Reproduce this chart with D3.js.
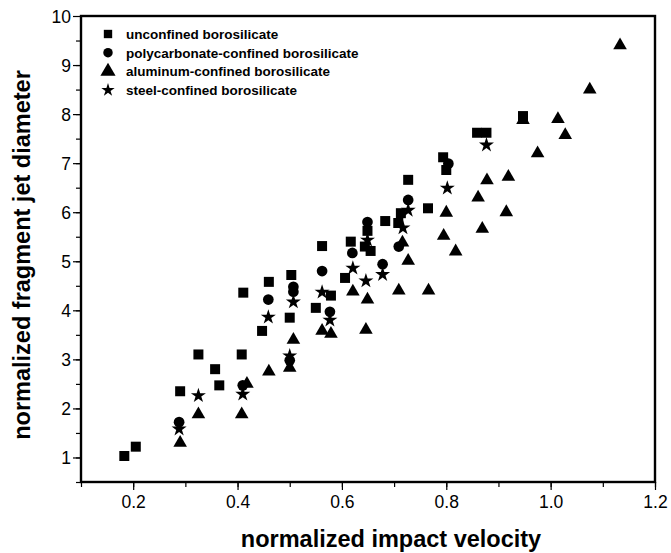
<!DOCTYPE html>
<html>
<head>
<meta charset="utf-8">
<title>Fragment jet diameter</title>
<script src="https://d3js.org/d3.v7.min.js"></script>
<style>
  body { margin: 0; background: #fff; }
  text { font-family: "Liberation Sans", Arial, sans-serif; }
</style>
</head>
<body>
<div id="chart"></div>
<script>
// series
var unconfinedX = [0.183, 0.205, 0.290, 0.325, 0.357, 0.365, 0.408, 0.411, 0.447, 0.460, 0.503, 0.500, 0.550, 0.562, 0.579, 0.606, 0.617, 0.644, 0.655, 0.649, 0.683, 0.708, 0.713, 0.727, 0.765, 0.794, 0.800, 0.859, 0.877, 0.947];
var unconfinedY = [1.03, 1.22, 2.35, 3.10, 2.80, 2.47, 3.10, 4.36, 3.58, 4.58, 4.72, 3.85, 4.05, 5.31, 4.30, 4.66, 5.40, 5.30, 5.21, 5.62, 5.82, 5.78, 5.98, 6.66, 6.08, 7.12, 6.86, 7.62, 7.62, 7.96];

var polyX = [0.288, 0.410, 0.459, 0.507, 0.507, 0.500, 0.562, 0.577, 0.620, 0.649, 0.678, 0.709, 0.727, 0.804];
var polyY = [1.72, 2.47, 4.22, 4.48, 4.38, 2.98, 4.80, 3.97, 5.17, 5.80, 4.94, 5.30, 6.25, 6.99];

var aluX = [0.290, 0.325, 0.408, 0.418, 0.460, 0.500, 0.507, 0.562, 0.579, 0.621, 0.649, 0.646, 0.709, 0.716, 0.727, 0.766, 0.795, 0.800, 0.818, 0.861, 0.869, 0.878, 0.915, 0.919, 0.947, 0.975, 1.014, 1.028, 1.075, 1.133];
var aluY = [1.30, 1.88, 1.88, 2.50, 2.75, 2.83, 3.40, 3.58, 3.52, 4.38, 4.22, 3.60, 4.40, 5.38, 5.01, 4.40, 5.52, 5.99, 5.20, 6.30, 5.66, 6.65, 6.00, 6.72, 7.88, 7.20, 7.90, 7.57, 8.50, 9.40];

var steelX = [0.288, 0.325, 0.410, 0.459, 0.507, 0.500, 0.562, 0.577, 0.621, 0.646, 0.649, 0.678, 0.717, 0.727, 0.802, 0.877];
var steelY = [1.58, 2.26, 2.29, 3.86, 4.17, 3.07, 4.37, 3.80, 4.86, 4.60, 5.43, 4.73, 5.68, 6.04, 6.49, 7.37];

var seriesNames = ["unconfined borosilicate", "polycarbonate-confined borosilicate", "aluminum-confined borosilicate", "steel-confined borosilicate"];
var xTicks = [0.2, 0.4, 0.6, 0.8, 1.0, 1.2];
var yTicks = [1, 2, 3, 4, 5, 6, 7, 8, 9, 10];

var W = 671, H = 553;
var mLeft = 81, mRight = 655, mTop = 16, mBottom = 482;

var svg = d3.select("#chart").append("svg")
    .attr("width", W).attr("height", H);

var x = d3.scaleLinear().domain([0.1, 1.2]).range([mLeft, mRight]);
var y = d3.scaleLinear().domain([0.5, 10]).range([mBottom, mTop]);

// minor ticks
var xMinor = d3.range(1, 13).map(function(i) { return i / 10; });
var yMinor = d3.range(1, 20).map(function(i) { return i / 2; });

svg.append("g")
    .attr("transform", "translate(0," + mBottom + ")")
    .call(d3.axisBottom(x).tickValues(xMinor).tickSize(5).tickFormat(""))
    .call(function(g) { g.select(".domain").remove(); });
svg.append("g")
    .attr("transform", "translate(" + mLeft + ",0)")
    .call(d3.axisLeft(y).tickValues(yMinor).tickSize(5).tickFormat(""))
    .call(function(g) { g.select(".domain").remove(); });

var xAxis = svg.append("g")
    .attr("transform", "translate(0," + mBottom + ")")
    .call(d3.axisBottom(x).tickValues(xTicks).tickSize(8).tickPadding(6).tickFormat(d3.format(".1f")));
var yAxis = svg.append("g")
    .attr("transform", "translate(" + mLeft + ",0)")
    .call(d3.axisLeft(y).tickValues(yTicks).tickSize(8).tickPadding(2).tickFormat(d3.format("d")));

[xAxis, yAxis].forEach(function(g) {
  g.select(".domain").remove();
  g.selectAll("text").style("font-size", "17.5px").attr("fill", "#000");
});
yAxis.selectAll("text").attr("dy", "0.35em");

svg.selectAll(".tick line").attr("stroke", "#000").attr("stroke-width", 1.2);

// frame
svg.append("rect")
    .attr("x", mLeft).attr("y", mTop)
    .attr("width", mRight - mLeft).attr("height", mBottom - mTop)
    .attr("fill", "none").attr("stroke", "#000").attr("stroke-width", 2.4);

var shapes = [
  { type: d3.symbolSquare, size: 100, xs: unconfinedX, ys: unconfinedY },
  { type: d3.symbolCircle, size: 90, xs: polyX, ys: polyY },
  { type: d3.symbolTriangle, size: 80, xs: aluX, ys: aluY },
  { type: d3.symbolStar, size: 70, xs: steelX, ys: steelY }
];

shapes.forEach(function(s) {
  var pts = s.xs.map(function(v, i) { return [v, s.ys[i]]; });
  svg.append("g").selectAll("path")
      .data(pts)
      .enter().append("path")
      .attr("transform", function(d) { return "translate(" + x(d[0]) + "," + y(d[1]) + ")"; })
      .attr("d", d3.symbol().type(s.type).size(s.size))
      .attr("fill", "#000");
});

// legend
var legend = svg.append("g");
var legendSizes = [70, 70, 100, 55];
seriesNames.forEach(function(name, i) {
  var ly = 34 + i * 18.7;
  legend.append("path")
      .attr("transform", "translate(108," + ly + ")")
      .attr("d", d3.symbol().type(shapes[i].type).size(legendSizes[i]))
      .attr("fill", "#000");
  legend.append("text")
      .attr("x", 126).attr("y", ly)
      .attr("dy", "0.36em")
      .style("font-size", "13.5px").style("font-weight", "bold")
      .text(name);
});

// axis titles
svg.append("text")
    .attr("x", 391).attr("y", 547)
    .attr("text-anchor", "middle")
    .style("font-size", "23.5px").style("font-weight", "bold")
    .text("normalized impact velocity");

svg.append("text")
    .attr("transform", "translate(30,255) rotate(-90)")
    .attr("text-anchor", "middle")
    .style("font-size", "23.5px").style("font-weight", "bold")
    .text("normalized fragment jet diameter");
</script>
</body>
</html>
